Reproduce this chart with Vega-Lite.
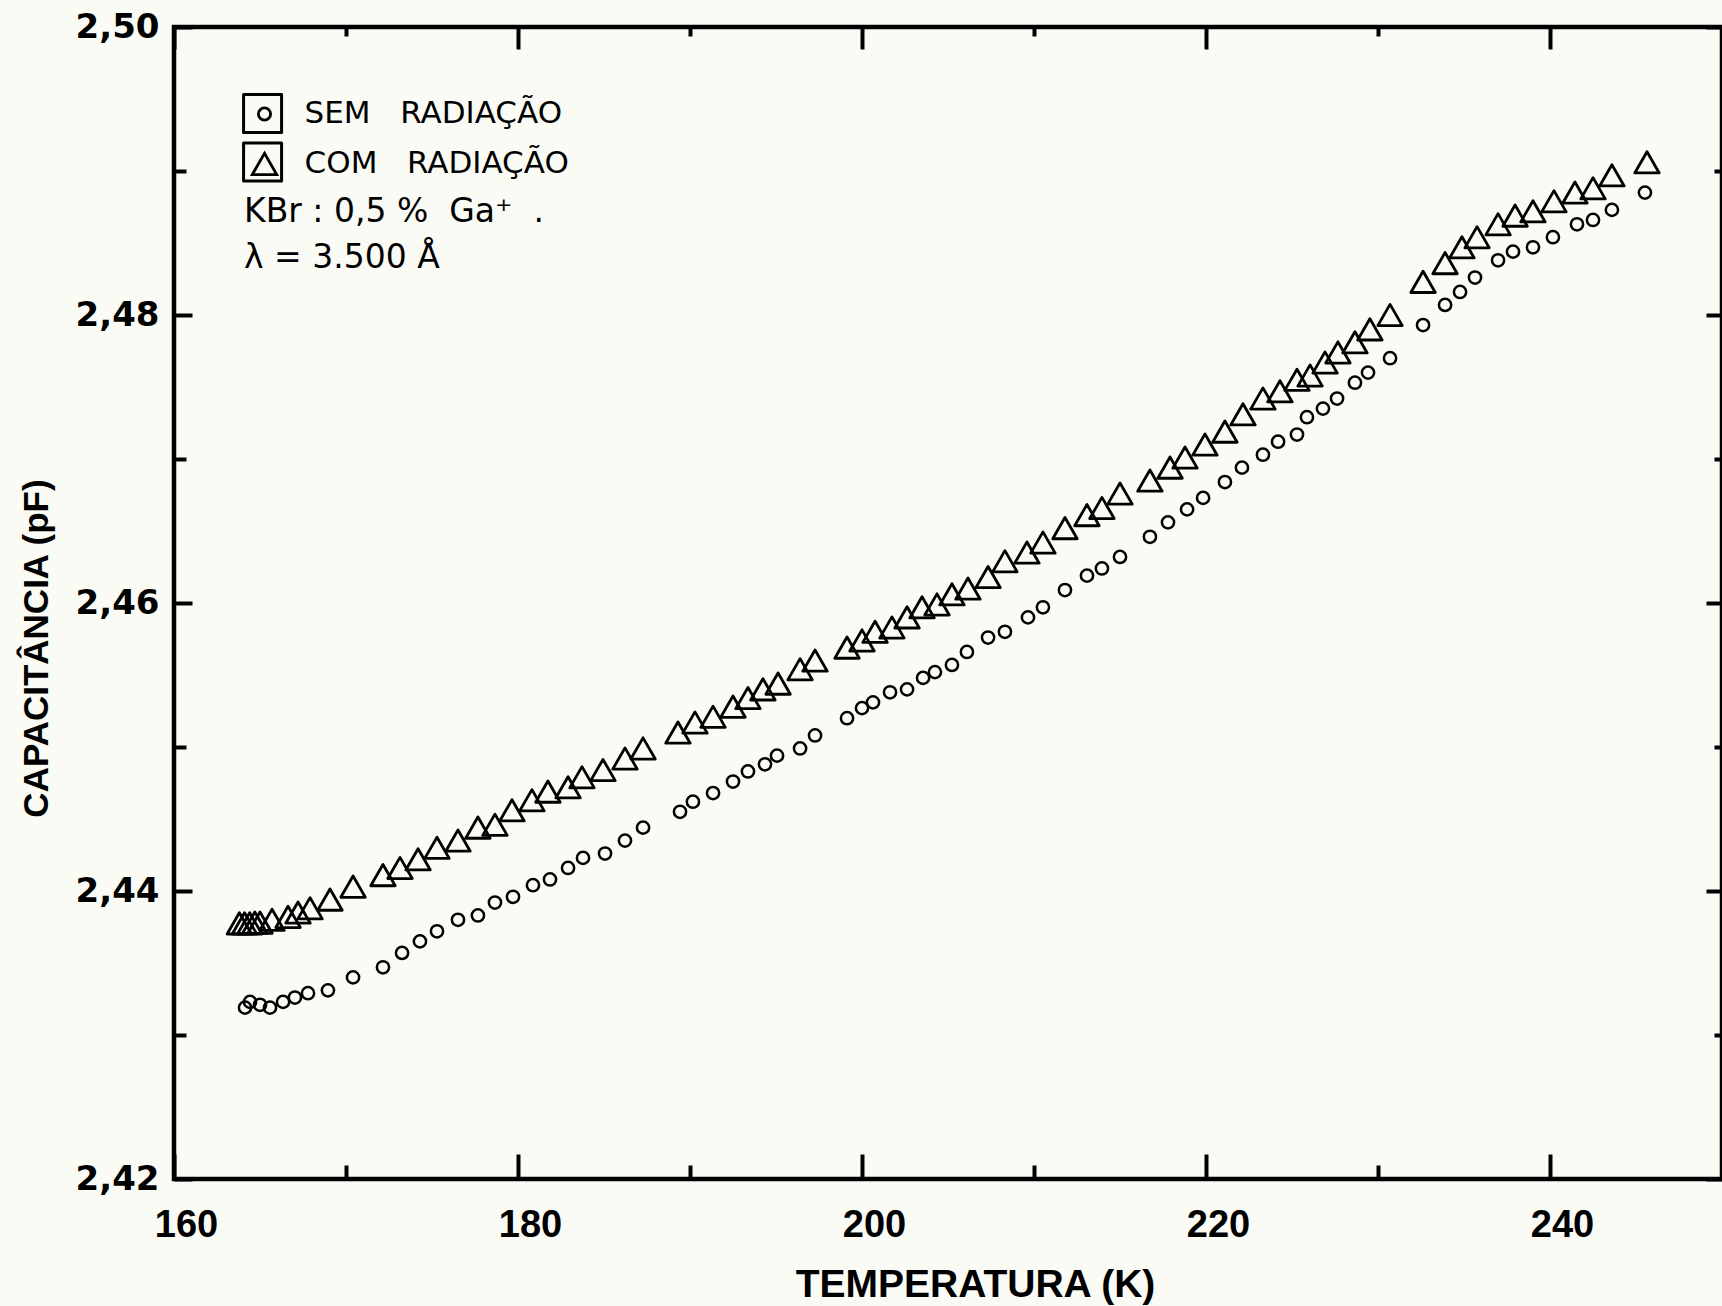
{
  "$schema": "https://vega.github.io/schema/vega-lite/v6.json",
  "width": 1548,
  "height": 1152,
  "autosize": "none",
  "padding": {"left": 174, "top": 27, "right": 0, "bottom": 127},
  "background": "#fbfbf6",
  "datasets": {
    "pontos": [
      {"T": 163.8, "C": 2.43775, "serie": "COM RADIAÇÃO"},
      {"T": 164.1, "C": 2.43775, "serie": "COM RADIAÇÃO"},
      {"T": 164.4, "C": 2.43775, "serie": "COM RADIAÇÃO"},
      {"T": 164.7, "C": 2.4378, "serie": "COM RADIAÇÃO"},
      {"T": 165.0, "C": 2.4378, "serie": "COM RADIAÇÃO"},
      {"T": 165.7, "C": 2.4380, "serie": "COM RADIAÇÃO"},
      {"T": 166.63, "C": 2.4382, "serie": "COM RADIAÇÃO"},
      {"T": 167.21, "C": 2.4385, "serie": "COM RADIAÇÃO"},
      {"T": 167.91, "C": 2.4388, "serie": "COM RADIAÇÃO"},
      {"T": 169.07, "C": 2.4394, "serie": "COM RADIAÇÃO"},
      {"T": 170.41, "C": 2.4403, "serie": "COM RADIAÇÃO"},
      {"T": 172.15, "C": 2.4411, "serie": "COM RADIAÇÃO"},
      {"T": 173.14, "C": 2.4416, "serie": "COM RADIAÇÃO"},
      {"T": 174.19, "C": 2.4422, "serie": "COM RADIAÇÃO"},
      {"T": 175.29, "C": 2.4430, "serie": "COM RADIAÇÃO"},
      {"T": 176.51, "C": 2.4435, "serie": "COM RADIAÇÃO"},
      {"T": 177.67, "C": 2.4444, "serie": "COM RADIAÇÃO"},
      {"T": 178.66, "C": 2.4446, "serie": "COM RADIAÇÃO"},
      {"T": 179.65, "C": 2.4456, "serie": "COM RADIAÇÃO"},
      {"T": 180.81, "C": 2.4463, "serie": "COM RADIAÇÃO"},
      {"T": 181.74, "C": 2.4469, "serie": "COM RADIAÇÃO"},
      {"T": 182.91, "C": 2.4472, "serie": "COM RADIAÇÃO"},
      {"T": 183.72, "C": 2.4479, "serie": "COM RADIAÇÃO"},
      {"T": 184.94, "C": 2.4484, "serie": "COM RADIAÇÃO"},
      {"T": 186.22, "C": 2.4492, "serie": "COM RADIAÇÃO"},
      {"T": 187.27, "C": 2.4499, "serie": "COM RADIAÇÃO"},
      {"T": 189.30, "C": 2.4510, "serie": "COM RADIAÇÃO"},
      {"T": 190.29, "C": 2.4517, "serie": "COM RADIAÇÃO"},
      {"T": 191.34, "C": 2.4521, "serie": "COM RADIAÇÃO"},
      {"T": 192.50, "C": 2.4528, "serie": "COM RADIAÇÃO"},
      {"T": 193.37, "C": 2.4534, "serie": "COM RADIAÇÃO"},
      {"T": 194.24, "C": 2.4540, "serie": "COM RADIAÇÃO"},
      {"T": 195.12, "C": 2.4544, "serie": "COM RADIAÇÃO"},
      {"T": 196.40, "C": 2.4554, "serie": "COM RADIAÇÃO"},
      {"T": 197.27, "C": 2.4560, "serie": "COM RADIAÇÃO"},
      {"T": 199.13, "C": 2.4569, "serie": "COM RADIAÇÃO"},
      {"T": 200.00, "C": 2.4574, "serie": "COM RADIAÇÃO"},
      {"T": 200.76, "C": 2.4580, "serie": "COM RADIAÇÃO"},
      {"T": 201.74, "C": 2.4583, "serie": "COM RADIAÇÃO"},
      {"T": 202.62, "C": 2.4590, "serie": "COM RADIAÇÃO"},
      {"T": 203.49, "C": 2.4597, "serie": "COM RADIAÇÃO"},
      {"T": 204.36, "C": 2.4599, "serie": "COM RADIAÇÃO"},
      {"T": 205.23, "C": 2.4606, "serie": "COM RADIAÇÃO"},
      {"T": 206.16, "C": 2.4610, "serie": "COM RADIAÇÃO"},
      {"T": 207.33, "C": 2.4618, "serie": "COM RADIAÇÃO"},
      {"T": 208.31, "C": 2.4629, "serie": "COM RADIAÇÃO"},
      {"T": 209.59, "C": 2.4635, "serie": "COM RADIAÇÃO"},
      {"T": 210.52, "C": 2.4642, "serie": "COM RADIAÇÃO"},
      {"T": 211.80, "C": 2.4652, "serie": "COM RADIAÇÃO"},
      {"T": 213.08, "C": 2.4661, "serie": "COM RADIAÇÃO"},
      {"T": 213.95, "C": 2.4666, "serie": "COM RADIAÇÃO"},
      {"T": 215.00, "C": 2.4676, "serie": "COM RADIAÇÃO"},
      {"T": 216.74, "C": 2.4685, "serie": "COM RADIAÇÃO"},
      {"T": 217.91, "C": 2.4694, "serie": "COM RADIAÇÃO"},
      {"T": 218.78, "C": 2.4701, "serie": "COM RADIAÇÃO"},
      {"T": 219.94, "C": 2.4710, "serie": "COM RADIAÇÃO"},
      {"T": 221.10, "C": 2.4719, "serie": "COM RADIAÇÃO"},
      {"T": 222.15, "C": 2.4731, "serie": "COM RADIAÇÃO"},
      {"T": 223.31, "C": 2.4742, "serie": "COM RADIAÇÃO"},
      {"T": 224.30, "C": 2.4747, "serie": "COM RADIAÇÃO"},
      {"T": 225.29, "C": 2.4755, "serie": "COM RADIAÇÃO"},
      {"T": 226.05, "C": 2.4758, "serie": "COM RADIAÇÃO"},
      {"T": 226.92, "C": 2.4767, "serie": "COM RADIAÇÃO"},
      {"T": 227.67, "C": 2.4774, "serie": "COM RADIAÇÃO"},
      {"T": 228.66, "C": 2.4781, "serie": "COM RADIAÇÃO"},
      {"T": 229.53, "C": 2.4790, "serie": "COM RADIAÇÃO"},
      {"T": 230.70, "C": 2.4800, "serie": "COM RADIAÇÃO"},
      {"T": 232.62, "C": 2.4823, "serie": "COM RADIAÇÃO"},
      {"T": 233.90, "C": 2.4836, "serie": "COM RADIAÇÃO"},
      {"T": 234.88, "C": 2.4847, "serie": "COM RADIAÇÃO"},
      {"T": 235.76, "C": 2.4854, "serie": "COM RADIAÇÃO"},
      {"T": 236.98, "C": 2.4863, "serie": "COM RADIAÇÃO"},
      {"T": 237.97, "C": 2.4869, "serie": "COM RADIAÇÃO"},
      {"T": 239.01, "C": 2.4872, "serie": "COM RADIAÇÃO"},
      {"T": 240.23, "C": 2.4879, "serie": "COM RADIAÇÃO"},
      {"T": 241.45, "C": 2.4885, "serie": "COM RADIAÇÃO"},
      {"T": 242.50, "C": 2.4888, "serie": "COM RADIAÇÃO"},
      {"T": 243.60, "C": 2.4897, "serie": "COM RADIAÇÃO"},
      {"T": 245.64, "C": 2.4906, "serie": "COM RADIAÇÃO"},
      {"T": 164.13, "C": 2.4319, "serie": "SEM RADIAÇÃO"},
      {"T": 164.42, "C": 2.4323, "serie": "SEM RADIAÇÃO"},
      {"T": 165.00, "C": 2.4321, "serie": "SEM RADIAÇÃO"},
      {"T": 165.58, "C": 2.4319, "serie": "SEM RADIAÇÃO"},
      {"T": 166.34, "C": 2.4323, "serie": "SEM RADIAÇÃO"},
      {"T": 167.03, "C": 2.4326, "serie": "SEM RADIAÇÃO"},
      {"T": 167.79, "C": 2.4329, "serie": "SEM RADIAÇÃO"},
      {"T": 168.95, "C": 2.4331, "serie": "SEM RADIAÇÃO"},
      {"T": 170.41, "C": 2.4340, "serie": "SEM RADIAÇÃO"},
      {"T": 172.15, "C": 2.4347, "serie": "SEM RADIAÇÃO"},
      {"T": 173.26, "C": 2.4357, "serie": "SEM RADIAÇÃO"},
      {"T": 174.30, "C": 2.4365, "serie": "SEM RADIAÇÃO"},
      {"T": 175.29, "C": 2.4372, "serie": "SEM RADIAÇÃO"},
      {"T": 176.51, "C": 2.4380, "serie": "SEM RADIAÇÃO"},
      {"T": 177.67, "C": 2.4383, "serie": "SEM RADIAÇÃO"},
      {"T": 178.66, "C": 2.4392, "serie": "SEM RADIAÇÃO"},
      {"T": 179.71, "C": 2.4396, "serie": "SEM RADIAÇÃO"},
      {"T": 180.87, "C": 2.4404, "serie": "SEM RADIAÇÃO"},
      {"T": 181.86, "C": 2.4408, "serie": "SEM RADIAÇÃO"},
      {"T": 182.91, "C": 2.4416, "serie": "SEM RADIAÇÃO"},
      {"T": 183.78, "C": 2.4423, "serie": "SEM RADIAÇÃO"},
      {"T": 185.06, "C": 2.4426, "serie": "SEM RADIAÇÃO"},
      {"T": 186.22, "C": 2.4435, "serie": "SEM RADIAÇÃO"},
      {"T": 187.27, "C": 2.4444, "serie": "SEM RADIAÇÃO"},
      {"T": 189.42, "C": 2.4455, "serie": "SEM RADIAÇÃO"},
      {"T": 190.17, "C": 2.4462, "serie": "SEM RADIAÇÃO"},
      {"T": 191.34, "C": 2.4468, "serie": "SEM RADIAÇÃO"},
      {"T": 192.50, "C": 2.4476, "serie": "SEM RADIAÇÃO"},
      {"T": 193.37, "C": 2.4483, "serie": "SEM RADIAÇÃO"},
      {"T": 194.36, "C": 2.4488, "serie": "SEM RADIAÇÃO"},
      {"T": 195.06, "C": 2.4494, "serie": "SEM RADIAÇÃO"},
      {"T": 196.40, "C": 2.4499, "serie": "SEM RADIAÇÃO"},
      {"T": 197.27, "C": 2.4508, "serie": "SEM RADIAÇÃO"},
      {"T": 199.13, "C": 2.4520, "serie": "SEM RADIAÇÃO"},
      {"T": 200.00, "C": 2.4527, "serie": "SEM RADIAÇÃO"},
      {"T": 200.64, "C": 2.4531, "serie": "SEM RADIAÇÃO"},
      {"T": 201.63, "C": 2.4538, "serie": "SEM RADIAÇÃO"},
      {"T": 202.62, "C": 2.4540, "serie": "SEM RADIAÇÃO"},
      {"T": 203.55, "C": 2.4548, "serie": "SEM RADIAÇÃO"},
      {"T": 204.24, "C": 2.4552, "serie": "SEM RADIAÇÃO"},
      {"T": 205.23, "C": 2.4557, "serie": "SEM RADIAÇÃO"},
      {"T": 206.10, "C": 2.4566, "serie": "SEM RADIAÇÃO"},
      {"T": 207.33, "C": 2.4576, "serie": "SEM RADIAÇÃO"},
      {"T": 208.31, "C": 2.4580, "serie": "SEM RADIAÇÃO"},
      {"T": 209.65, "C": 2.4590, "serie": "SEM RADIAÇÃO"},
      {"T": 210.52, "C": 2.4597, "serie": "SEM RADIAÇÃO"},
      {"T": 211.80, "C": 2.4609, "serie": "SEM RADIAÇÃO"},
      {"T": 213.08, "C": 2.4619, "serie": "SEM RADIAÇÃO"},
      {"T": 213.95, "C": 2.4624, "serie": "SEM RADIAÇÃO"},
      {"T": 215.00, "C": 2.4632, "serie": "SEM RADIAÇÃO"},
      {"T": 216.74, "C": 2.4646, "serie": "SEM RADIAÇÃO"},
      {"T": 217.79, "C": 2.4656, "serie": "SEM RADIAÇÃO"},
      {"T": 218.90, "C": 2.4665, "serie": "SEM RADIAÇÃO"},
      {"T": 219.83, "C": 2.4673, "serie": "SEM RADIAÇÃO"},
      {"T": 221.10, "C": 2.4684, "serie": "SEM RADIAÇÃO"},
      {"T": 222.09, "C": 2.4694, "serie": "SEM RADIAÇÃO"},
      {"T": 223.31, "C": 2.4703, "serie": "SEM RADIAÇÃO"},
      {"T": 224.19, "C": 2.4712, "serie": "SEM RADIAÇÃO"},
      {"T": 225.29, "C": 2.4717, "serie": "SEM RADIAÇÃO"},
      {"T": 225.87, "C": 2.4729, "serie": "SEM RADIAÇÃO"},
      {"T": 226.80, "C": 2.4735, "serie": "SEM RADIAÇÃO"},
      {"T": 227.62, "C": 2.4742, "serie": "SEM RADIAÇÃO"},
      {"T": 228.66, "C": 2.4753, "serie": "SEM RADIAÇÃO"},
      {"T": 229.42, "C": 2.4760, "serie": "SEM RADIAÇÃO"},
      {"T": 230.70, "C": 2.4770, "serie": "SEM RADIAÇÃO"},
      {"T": 232.62, "C": 2.4793, "serie": "SEM RADIAÇÃO"},
      {"T": 233.90, "C": 2.4807, "serie": "SEM RADIAÇÃO"},
      {"T": 234.77, "C": 2.4816, "serie": "SEM RADIAÇÃO"},
      {"T": 235.64, "C": 2.4826, "serie": "SEM RADIAÇÃO"},
      {"T": 236.98, "C": 2.4838, "serie": "SEM RADIAÇÃO"},
      {"T": 237.85, "C": 2.4844, "serie": "SEM RADIAÇÃO"},
      {"T": 239.01, "C": 2.4847, "serie": "SEM RADIAÇÃO"},
      {"T": 240.17, "C": 2.4854, "serie": "SEM RADIAÇÃO"},
      {"T": 241.57, "C": 2.4863, "serie": "SEM RADIAÇÃO"},
      {"T": 242.50, "C": 2.4866, "serie": "SEM RADIAÇÃO"},
      {"T": 243.60, "C": 2.4873, "serie": "SEM RADIAÇÃO"},
      {"T": 245.52, "C": 2.4885, "serie": "SEM RADIAÇÃO"}
    ],
    "notas": [
      {"T": 164.07, "C": 2.48715, "nota": "amostra", "texto": "KBr : 0,5 %\u00a0\u00a0Ga⁺\u00a0\u00a0."},
      {"T": 164.07, "C": 2.48396, "nota": "lambda", "texto": "λ = 3.500 Å"}
    ],
    "caixas": [
      {"T": 165.15, "C": 2.49399, "serie": "SEM RADIAÇÃO"},
      {"T": 165.15, "C": 2.49062, "serie": "COM RADIAÇÃO"}
    ]
  },
  "layer": [
    {
      "data": {"name": "pontos"},
      "transform": [{"filter": "datum.serie === 'COM RADIAÇÃO'"}],
      "mark": {"type": "point", "filled": false, "color": "black", "opacity": 1, "strokeWidth": 2.8, "strokeJoin": "round"},
      "encoding": {
        "x": {
          "field": "T", "type": "quantitative",
          "scale": {"domain": [160, 250], "nice": false, "zero": false},
          "axis": {
            "orient": "bottom", "values": [160, 180, 200, 220, 240],
            "tickSize": 25, "offset": -25, "labelPadding": 46, "labelBaseline": "middle",
            "labelOffset": 12, "labelFlush": false, "labelOverlap": false,
            "labelFont": "Liberation Sans", "labelFontWeight": "bold", "labelFontSize": 38,
            "title": "TEMPERATURA (K)", "titleFont": "Liberation Sans", "titleFontWeight": "bold",
            "titleFontSize": 39, "titleX": 801, "titleY": 130, "titleAlign": "center",
            "titleBaseline": "middle", "titleAngle": 0
          }
        },
        "y": {
          "field": "C", "type": "quantitative",
          "scale": {"domain": [2.42, 2.5], "nice": false, "zero": false},
          "axis": {
            "orient": "left", "values": [2.42, 2.44, 2.46, 2.48, 2.5],
            "tickSize": 18, "offset": -18, "labelPadding": 15,
            "labelExpr": "replace(format(datum.value, '.2f'), '.', ',')",
            "labelFont": "DejaVu Sans", "labelFontWeight": "bold", "labelFontSize": 34,
            "labelBaseline": "middle", "labelAlign": "right", "labelFlush": false, "labelOverlap": false,
            "title": "CAPACITÂNCIA (pF)", "titleFont": "Liberation Sans", "titleFontWeight": "bold",
            "titleFontSize": 35, "titleX": -156, "titleY": 621, "titleAngle": -90,
            "titleAlign": "center", "titleBaseline": "middle"
          }
        },
        "shape": {
          "field": "serie", "type": "nominal",
          "scale": {"domain": ["SEM RADIAÇÃO", "COM RADIAÇÃO"], "range": ["circle", "triangle-up"]},
          "legend": {
            "title": null, "orient": "none", "legendX": 75, "legendY": 71.5, "direction": "vertical",
            "padding": 0, "symbolStrokeWidth": 2.8, "symbolStrokeColor": "black",
            "symbolFillColor": "transparent", "labelFont": "DejaVu Sans", "labelFontSize": 31,
            "labelColor": "black", "labelOffset": 24.6, "rowPadding": 18, "labelLimit": 0,
            "labelExpr": "replace(datum.label, ' ', '\u00a0\u00a0\u00a0')"
          }
        },
        "size": {
          "field": "serie", "type": "nominal",
          "scale": {"domain": ["SEM RADIAÇÃO", "COM RADIAÇÃO"], "range": [150, 600]},
          "legend": {
            "title": null, "orient": "none", "legendX": 75, "legendY": 71.5, "direction": "vertical",
            "padding": 0, "symbolStrokeWidth": 2.8, "symbolStrokeColor": "black",
            "symbolFillColor": "transparent", "labelFont": "DejaVu Sans", "labelFontSize": 31,
            "labelColor": "black", "labelOffset": 24.6, "rowPadding": 18, "labelLimit": 0,
            "labelExpr": "replace(datum.label, ' ', '\u00a0\u00a0\u00a0')"
          }
        }
      }
    },
    {
      "data": {"name": "pontos"},
      "transform": [{"filter": "datum.serie === 'SEM RADIAÇÃO'"}],
      "mark": {"type": "point", "filled": false, "color": "black", "opacity": 1, "strokeWidth": 2.5},
      "encoding": {
        "x": {
          "field": "T", "type": "quantitative",
          "scale": {"domain": [160, 250], "nice": false, "zero": false},
          "axis": {"orient": "bottom", "values": [170, 190, 210, 230], "tickSize": 14, "offset": -14, "labels": false, "title": null}
        },
        "y": {
          "field": "C", "type": "quantitative",
          "scale": {"domain": [2.42, 2.5], "nice": false, "zero": false},
          "axis": {"orient": "left", "values": [2.43, 2.45, 2.47, 2.49], "tickSize": 12, "offset": -12, "labels": false, "title": null}
        },
        "shape": {
          "field": "serie", "type": "nominal",
          "scale": {"domain": ["SEM RADIAÇÃO", "COM RADIAÇÃO"], "range": ["circle", "triangle-up"]}
        },
        "size": {
          "field": "serie", "type": "nominal",
          "scale": {"domain": ["SEM RADIAÇÃO", "COM RADIAÇÃO"], "range": [150, 600]}
        }
      }
    },
    {
      "data": {"name": "notas"},
      "transform": [{"filter": "datum.nota === 'amostra'"}],
      "mark": {"type": "text", "align": "left", "baseline": "middle", "font": "DejaVu Sans", "fontSize": 33, "color": "black"},
      "encoding": {
        "x": {
          "field": "T", "type": "quantitative",
          "scale": {"domain": [160, 250], "nice": false, "zero": false},
          "axis": {"orient": "top", "values": [160, 180, 200, 220, 240], "tickSize": 22, "offset": -22, "labels": false, "title": null}
        },
        "y": {
          "field": "C", "type": "quantitative",
          "scale": {"domain": [2.42, 2.5], "nice": false, "zero": false},
          "axis": {"orient": "right", "values": [2.42, 2.44, 2.46, 2.48, 2.5], "tickSize": 16, "offset": -16, "labels": false, "title": null}
        },
        "text": {"field": "texto", "type": "nominal"}
      }
    },
    {
      "data": {"name": "notas"},
      "transform": [{"filter": "datum.nota === 'lambda'"}],
      "mark": {"type": "text", "align": "left", "baseline": "middle", "font": "DejaVu Sans", "fontSize": 33, "color": "black"},
      "encoding": {
        "x": {
          "field": "T", "type": "quantitative",
          "scale": {"domain": [160, 250], "nice": false, "zero": false},
          "axis": {"orient": "top", "values": [170, 190, 210, 230], "tickSize": 9, "offset": -9, "labels": false, "title": null}
        },
        "y": {
          "field": "C", "type": "quantitative",
          "scale": {"domain": [2.42, 2.5], "nice": false, "zero": false},
          "axis": {"orient": "right", "values": [2.43, 2.45, 2.47, 2.49], "tickSize": 8, "offset": -8, "labels": false, "title": null}
        },
        "text": {"field": "texto", "type": "nominal"}
      }
    },
    {
      "data": {"name": "caixas"},
      "mark": {"type": "point", "shape": "square", "filled": false, "color": "black", "opacity": 1, "size": 1444, "strokeWidth": 3, "strokeJoin": "round"},
      "encoding": {
        "x": {
          "field": "T", "type": "quantitative",
          "scale": {"domain": [160, 250], "nice": false, "zero": false},
          "axis": null
        },
        "y": {
          "field": "C", "type": "quantitative",
          "scale": {"domain": [2.42, 2.5], "nice": false, "zero": false},
          "axis": null
        }
      }
    }
  ],
  "resolve": {
    "scale": {"x": "shared", "y": "shared", "shape": "shared", "size": "shared"},
    "axis": {"x": "independent", "y": "independent"}
  },
  "config": {
    "view": {"stroke": "black", "strokeWidth": 4.5},
    "axis": {"domain": false, "grid": false, "tickColor": "black", "tickWidth": 4, "labelColor": "black", "titleColor": "black"}
  }
}
